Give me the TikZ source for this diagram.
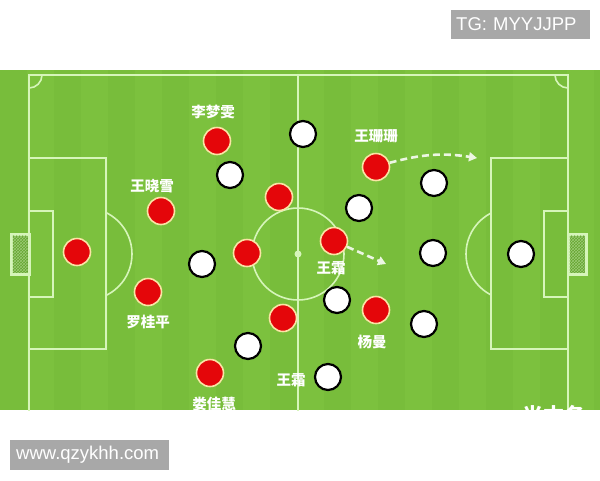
\documentclass[tikz,border=0pt]{standalone}
\usepackage{fontspec}
\setsansfont{Liberation Sans}
\newfontfamily\cjk{Noto Sans CJK SC}
\usetikzlibrary{arrows.meta,patterns}
\definecolor{pitch}{RGB}{124,193,62}
\definecolor{pitchdark}{RGB}{120,189,59}
\definecolor{chalk}{RGB}{214,245,186}
\definecolor{netc}{RGB}{100,164,48}
\definecolor{shirt}{RGB}{228,6,10}
\definecolor{trim}{RGB}{250,228,165}
\definecolor{tag}{RGB}{168,168,168}
\definecolor{runc}{RGB}{236,246,226}
\begin{document}
\begin{tikzpicture}[x=1pt,y=-1pt,
    redp/.style={circle,draw=trim,fill=shirt,line width=1.6pt,minimum size=27pt,inner sep=0pt},
    whitep/.style={circle,draw=black,fill=white,line width=2.2pt,minimum size=26pt,inner sep=0pt},
    player/.style={text=white,font=\cjk\bfseries\fontsize{14.5}{14.5}\selectfont,inner sep=0pt},
    chalkline/.style={draw=chalk,line width=1.6pt},
    run/.style={draw=runc,line width=2.6pt,dash pattern=on 7pt off 4pt,-{Triangle[length=8pt,width=9pt]}},
    tagbox/.style={fill=tag,text=white,font=\sffamily\fontsize{18.5}{18.5}\selectfont,inner ysep=0pt,align=left}]
  \useasboundingbox (0,0) rectangle (600,480);
  \fill[white] (0,0) rectangle (600,480);
  \node[tagbox,anchor=west,inner xsep=5pt,text width=129pt,minimum height=29pt] (tg) at (451,24.5) {TG: MYYJJPP};
  \node[tagbox,anchor=west,inner xsep=6pt,text width=147pt,minimum height=30pt] (web) at (10,455) {www.qzykhh.com};
  \begin{scope}
    \clip (0,70) rectangle (600,410);
    \fill[pitch] (0,70) rectangle (600,410);
    \foreach \i in {0,2,...,22}
      \fill[pitchdark] (\i*27,70) rectangle ++(27,340);
    % lines
    \draw[chalkline] (29,75) rectangle (568,440);
    \draw[chalkline] (298,75) -- (298,440);
    \draw[chalkline] (298,254) circle (46pt);
    \fill[chalk] (298,254) circle (3.5pt);
    \draw[chalkline] (29,158) rectangle (106,349);
    \draw[chalkline] (29,211) rectangle (53,297);
    \draw[chalkline] (491,158) rectangle (568,349);
    \draw[chalkline] (544,211) rectangle (568,297);
    \draw[chalkline,line width=3pt,fill=netc] (11,234) rectangle (29,274);
    \fill[pattern=crosshatch,pattern color=chalk!50!netc] (12.5,235.5) rectangle (27.5,272.5);
    \draw[chalkline,line width=3pt,fill=netc] (568,234) rectangle (586,274);
    \fill[pattern=crosshatch,pattern color=chalk!50!netc] (569.5,235.5) rectangle (584.5,272.5);
    \begin{scope}
      \clip (106,70) rectangle (300,410);
      \draw[chalkline] (86,254) circle (46pt);
    \end{scope}
    \begin{scope}
      \clip (300,70) rectangle (491,410);
      \draw[chalkline] (512,254) circle (46pt);
    \end{scope}
    \begin{scope}
      \clip (29,75) rectangle (568,410);
      \draw[chalkline] (29,75) circle (13pt);
      \draw[chalkline] (568,75) circle (13pt);
    \end{scope}
    % players
    \path
      (77,252) node[redp] (r1){}
      (217,141) node[redp] (r2){}
      (161,211) node[redp] (r3){}
      (279,197) node[redp] (r4){}
      (247,253) node[redp] (r5){}
      (148,292) node[redp] (r6){}
      (283,318) node[redp] (r7){}
      (210,373) node[redp] (r8){}
      (334,241) node[redp] (r9){}
      (376,167) node[redp] (r10){}
      (376,310) node[redp] (r11){};
    \path
      (303,134) node[whitep] (w1){}
      (230,175) node[whitep] (w2){}
      (202,264) node[whitep] (w3){}
      (248,346) node[whitep] (w4){}
      (328,377) node[whitep] (w5){}
      (337,300) node[whitep] (w6){}
      (359,208) node[whitep] (w7){}
      (434,183) node[whitep] (w8){}
      (433,253) node[whitep] (w9){}
      (424,324) node[whitep] (w10){}
      (521,254) node[whitep] (w11){};
    \path
      (213,112) node[player] (n2){李梦雯}
      (152,186) node[player] (n3){王晓雪}
      (148,322) node[player] (n6){罗桂平}
      (214,404) node[player] (n8){娄佳慧}
      (331,268) node[player] (n9){王霜}
      (376,136) node[player] (n10){王珊珊}
      (372,342) node[player] (n11){杨曼}
      (291,380) node[player] (n5){王霜}
      (554,415) node[player,font=\cjk\bfseries\fontsize{21}{21}\selectfont] (n12){光本各};
    % runs
    \coordinate (h10) at (477,158);
    \coordinate (h9) at (386,264);
    \begin{scope}
      \draw[run] (r10) to[bend left=12] (h10);
      \draw[run] (r9) to (h9);
    \end{scope}
  \end{scope}
\end{tikzpicture}
\end{document}
